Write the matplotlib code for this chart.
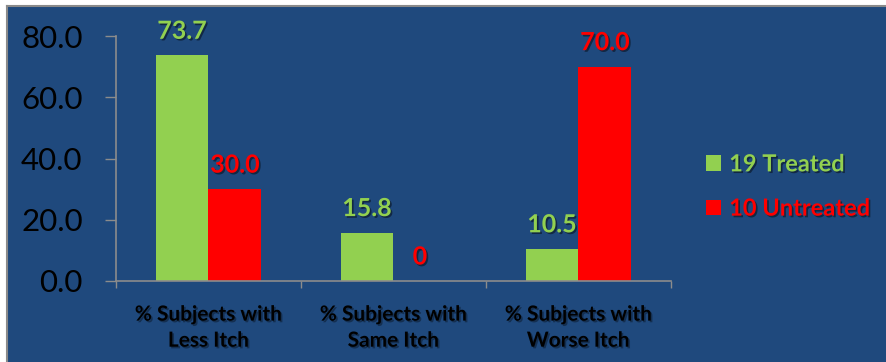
import matplotlib
matplotlib.use("Agg")
import matplotlib.pyplot as plt
import matplotlib.patheffects as pe
from matplotlib.patches import Rectangle, Patch
import numpy as np

# data
categories = ["% Subjects with\nLess Itch", "% Subjects with\nSame Itch", "% Subjects with\nWorse Itch"]
treated = [73.7, 15.8, 10.5]
untreated = [30.0, 0.0, 70.0]
series_names = ["19 Treated", "10 Untreated"]
yticks = [0, 20, 40, 60, 80]

GREEN = "#92D050"
RED = "#FF0000"
BG = "#1F497D"
AXIS = "#8C8C8C"

plt.rcParams["font.family"] = ["Lato", "DejaVu Sans"]

fig = plt.figure(figsize=(8.87, 3.62), dpi=100, facecolor="white")

# dark blue slide panel with a thin grey edge on top / left
fig.patches.append(Rectangle((8 / 887, 0), 1, 1 - 6 / 362, transform=fig.transFigure,
                             facecolor=BG, edgecolor="none", zorder=-10))
fig.add_artist(plt.Line2D([7.5 / 887, 1], [1 - 5.5 / 362] * 2, transform=fig.transFigure,
                          color="#8A8A8A", lw=1.5, zorder=-5))
fig.add_artist(plt.Line2D([7.5 / 887] * 2, [0, 1 - 5.5 / 362], transform=fig.transFigure,
                          color="#8A8A8A", lw=1.5, zorder=-5))

ax = fig.add_axes([116 / 887, 1 - 281 / 362, (671 - 116) / 887, (281 - 36) / 362])
ax.set_facecolor("none")

x = np.arange(len(categories))
w = 0.286
shadow = [pe.SimplePatchShadow(offset=(1.2, -1.2), shadow_rgbFace="black", alpha=0.45), pe.Normal()]

b1 = ax.bar(x - w / 2, treated, w, color=GREEN, zorder=2)
b2 = ax.bar(x + w / 2, untreated, w, color=RED, zorder=2)

for bars, vals, col in [(b1, treated, GREEN), (b2, untreated, RED)]:
    for rect, v in zip(bars, vals):
        txt = "0" if v == 0 else f"{v:.1f}"
        ax.annotate(txt, (rect.get_x() + rect.get_width() / 2, v), xytext=(0, 24),
                    textcoords="offset pixels", ha="center", va="center",
                    fontsize=18, fontweight="bold", color=col, path_effects=shadow)

ax.set_xlim(-0.5, len(categories) - 0.5)
ax.set_ylim(0, 80)
ax.set_yticks(yticks)
ax.set_yticklabels([f"{t:.1f}" for t in yticks], fontsize=22.5, color="black")
ax.tick_params(axis="y", direction="out", length=8, width=1, color=AXIS, pad=16)

ax.set_xticks(x)
ax.set_xticklabels(categories, fontsize=15, fontweight="bold", color="black", linespacing=1.38)
for lbl in ax.get_xticklabels():
    lbl.set_path_effects([pe.SimplePatchShadow(offset=(1.2, -1.2), shadow_rgbFace="black", alpha=0.35), pe.Normal()])
ax.tick_params(axis="x", length=0, pad=17)
ax.set_xticks(np.arange(-0.5, len(categories)), minor=True)
ax.tick_params(axis="x", which="minor", direction="out", length=5, width=1, color=AXIS)

for s in ["top", "right"]:
    ax.spines[s].set_visible(False)
for s in ["left", "bottom"]:
    ax.spines[s].set_color(AXIS)
    ax.spines[s].set_linewidth(1.2)

handles = [Patch(facecolor=GREEN), Patch(facecolor=RED)]
leg = fig.legend(handles, series_names, loc="center left", bbox_to_anchor=(685 / 887, 1 - 186 / 362),
                 frameon=False, labelcolor=[GREEN, RED], handlelength=0.62,
                 handleheight=0.62, handletextpad=0.35, labelspacing=0.9,
                 prop={"weight": "bold", "size": 17})
for t in leg.get_texts():
    t.set_path_effects(shadow)

fig.savefig("out.png", dpi=100, facecolor="white")
